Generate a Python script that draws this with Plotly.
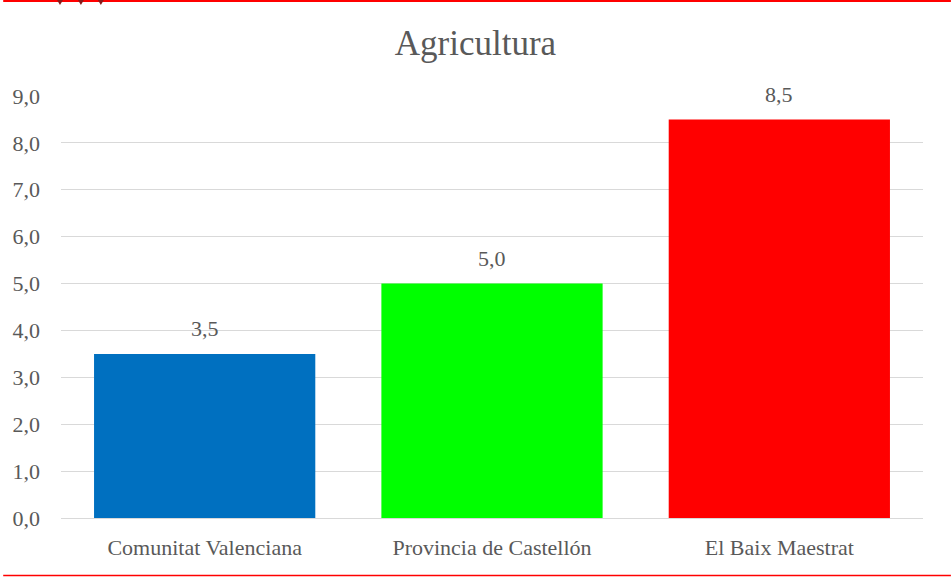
import plotly.graph_objects as go

categories = ["Comunitat Valenciana", "Provincia de Castellón", "El Baix Maestrat"]
values = [3.5, 5.0, 8.5]
colors = ["#0070C0", "#00FF00", "#FF0000"]
tick_vals = [0, 1, 2, 3, 4, 5, 6, 7, 8, 9]
tick_text = ["0,0", "1,0", "2,0", "3,0", "4,0", "5,0", "6,0", "7,0", "8,0", "9,0"]
title_text = "Agricultura"

W, H = 951, 577
L, R, T, B = 58, 28, 96, 59
pw, ph = W - L - R, H - T - B

def px(x):
    return (x - L) / pw

def py(y):
    return (H - B - y) / ph

FONT = "Liberation Serif, Times New Roman, serif"
GRAY = "#595959"

fig = go.Figure(go.Bar(
    x=categories, y=values,
    marker=dict(color=colors, line=dict(width=0)),
    hoverinfo="x+y",
))

annotations = [
    dict(x=c, y=v, xref="x", yref="y", text=f"{v:.1f}".replace(".", ","),
         showarrow=False, yanchor="middle", yshift=25,
         font=dict(family=FONT, size=22, color=GRAY))
    for c, v in zip(categories, values)
]

shapes = [
    dict(type="line", xref="paper", yref="paper", x0=px(0), x1=px(W), y0=py(1), y1=py(1),
         line=dict(color="#FF0000", width=2)),
    dict(type="line", xref="paper", yref="paper", x0=px(0), x1=px(W), y0=py(575.5), y1=py(575.5),
         line=dict(color="#FF0000", width=1.5)),
]
# small decorative icon at top-left
for cx in [57, 78, 98]:
    shapes.append(dict(type="path", xref="paper", yref="paper",
                       path=f"M {px(cx-3)} {py(0)} L {px(cx+3)} {py(0)} L {px(cx)} {py(5)} Z",
                       fillcolor="#8B1A1A", line=dict(width=0)))

fig.update_layout(
    width=W, height=H,
    margin=dict(l=L, r=R, t=T, b=B),
    paper_bgcolor="white", plot_bgcolor="white",
    bargap=0.23,
    showlegend=False,
    title=dict(text=title_text, x=0.5, xanchor="center", y=1 - 43 / H, yanchor="middle",
               font=dict(family=FONT, size=35, color=GRAY)),
    xaxis=dict(showgrid=False, showline=False, ticks="", ticklabelstandoff=14,
               tickfont=dict(family=FONT, size=22, color=GRAY)),
    yaxis=dict(range=[0, 9], tickvals=tick_vals, ticktext=tick_text,
               showgrid=True, gridcolor="#D9D9D9", gridwidth=1.3,
               zeroline=True, zerolinecolor="#D9D9D9", zerolinewidth=1.3,
               showline=False, ticks="", ticklabelstandoff=20,
               tickfont=dict(family=FONT, size=22, color=GRAY)),
    shapes=shapes,
    annotations=annotations,
)

fig.write_html("out.html", config={"displayModeBar": False},
               post_script="document.body.style.margin='0';document.body.style.overflow='hidden';")
